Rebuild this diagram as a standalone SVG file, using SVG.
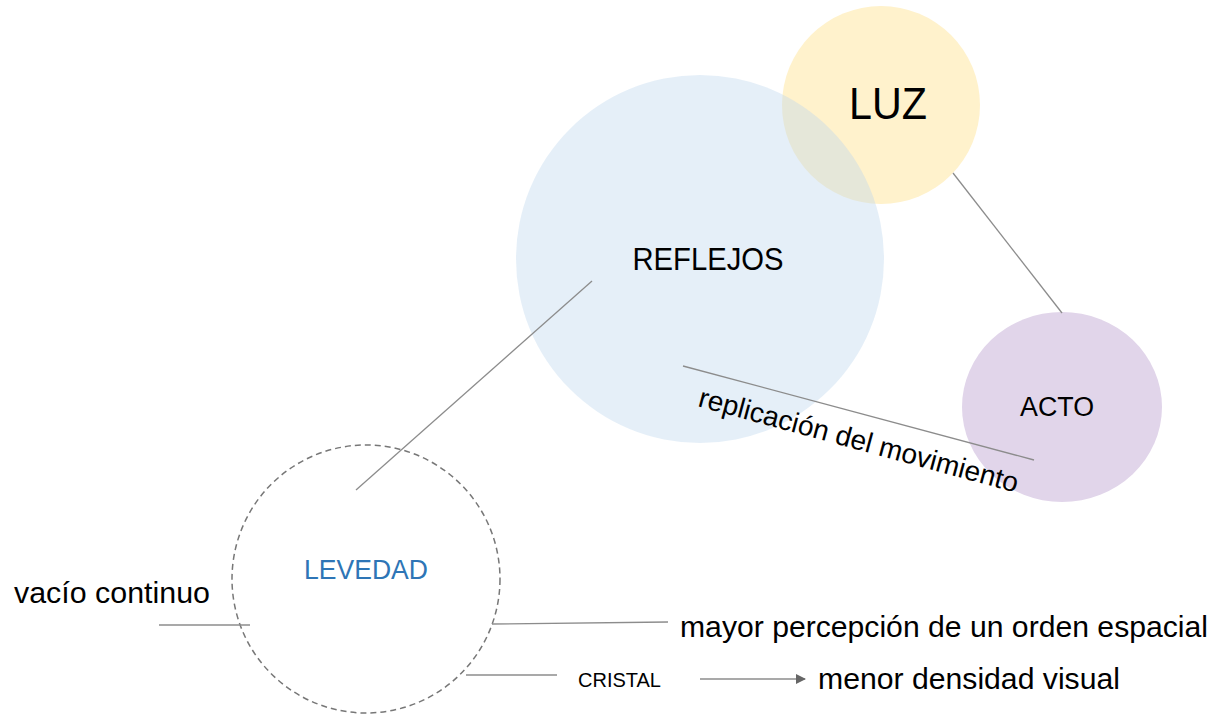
<svg xmlns="http://www.w3.org/2000/svg" width="1215" height="723" viewBox="0 0 1215 723">
<defs>
<style>
text{font-family:"Liberation Sans","Open Sans",Arial,sans-serif;fill:#000}
.ln{stroke:#8c8c8c;stroke-width:1.3;fill:none}
.mid{text-anchor:middle}
</style>
<marker id="arr" viewBox="0 0 10 10" refX="9" refY="5" markerWidth="10" markerHeight="10" markerUnits="userSpaceOnUse" orient="auto">
<path d="M0,0 L10,5 L0,10 Z" fill="#666"/>
</marker>
</defs>
<rect width="1215" height="723" fill="#fff"/>
<g id="luz">
<circle cx="881" cy="105" r="99" fill="#fff2cc"/>
</g>
<g id="reflejos">
<circle cx="700" cy="259" r="184" fill="#bdd7ee" fill-opacity="0.4"/>
<text x="708" y="270" class="mid" font-size="31" textLength="151" lengthAdjust="spacingAndGlyphs">REFLEJOS</text>
</g>
<g id="luz-label">
<text x="888" y="119" class="mid" font-size="45" textLength="78" lengthAdjust="spacingAndGlyphs">LUZ</text>
</g>
<g id="acto">
<ellipse cx="1062" cy="407" rx="100" ry="95" fill="#e1d5ea"/>
<text x="1057" y="416" class="mid" font-size="27" textLength="74" lengthAdjust="spacingAndGlyphs">ACTO</text>
</g>
<g id="levedad">
<circle cx="366" cy="579" r="134" fill="none" stroke="#777" stroke-width="1.5" stroke-dasharray="6,4"/>
<text x="366" y="579" class="mid" font-size="27" style="fill:#2e75b6" textLength="124" lengthAdjust="spacingAndGlyphs">LEVEDAD</text>
</g>
<g id="connectors">
<line class="ln" x1="592" y1="281" x2="356" y2="490"/>
<line class="ln" x1="953" y1="173" x2="1062" y2="313"/>
<line class="ln" x1="683" y1="366" x2="1034" y2="460"/>
<line class="ln" x1="159" y1="625" x2="250" y2="625"/>
<line class="ln" x1="492" y1="624" x2="668" y2="622"/>
<line class="ln" x1="466" y1="675" x2="557" y2="675"/>
<line class="ln" x1="700" y1="679" x2="805" y2="679" stroke="#777" marker-end="url(#arr)"/>
</g>
<g id="labels">
<text transform="translate(697,406) rotate(15.2)" font-size="28" textLength="330" lengthAdjust="spacingAndGlyphs">replicación del movimiento</text>
<text x="14" y="603" font-size="30" textLength="196" lengthAdjust="spacingAndGlyphs">vacío continuo</text>
<text x="680" y="637" font-size="30" textLength="528" lengthAdjust="spacingAndGlyphs">mayor percepción de un orden espacial</text>
<text x="578" y="687" font-size="21" textLength="83" lengthAdjust="spacingAndGlyphs">CRISTAL</text>
<text x="818" y="689" font-size="30" textLength="302" lengthAdjust="spacingAndGlyphs">menor densidad visual</text>
</g>
</svg>
